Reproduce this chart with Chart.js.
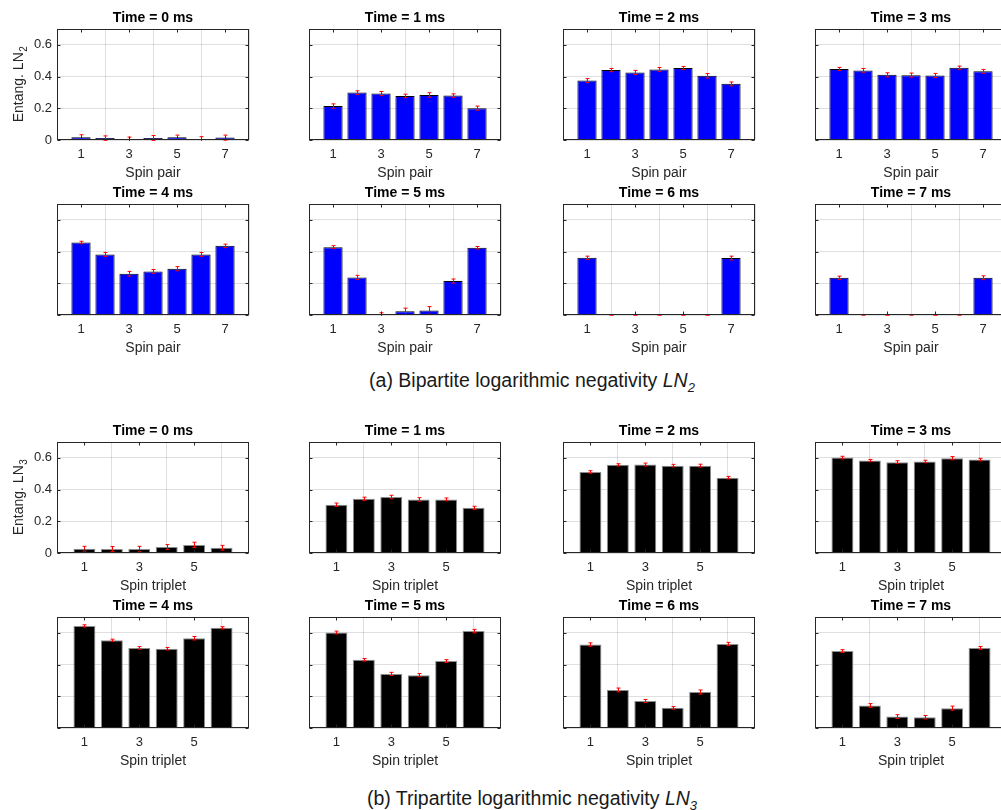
<!DOCTYPE html>
<html>
<head>
<meta charset="utf-8">
<script src="https://cdn.jsdelivr.net/npm/chart.js@4.4.1/dist/chart.umd.min.js"></script>
<style>
  html, body { margin: 0; padding: 0; background: #fff; }
  body { width: 1001px; height: 810px; overflow: hidden; position: relative;
         font-family: "Liberation Sans", Arial, Helvetica, sans-serif; }
  .cell { position: absolute; }
  .caption { position: absolute; font-size: 19.5px; line-height: 22px; color: #1a1a1a;
             white-space: nowrap; transform: translateX(-50%); }
  .caption sub { font-size: 13px; line-height: 0; vertical-align: -5px; }
</style>
</head>
<body>
<div class="caption" style="left:532px; top:369px;">(a) Bipartite logarithmic negativity <i>LN<sub>2</sub></i></div>
<div class="caption" style="left:532px; top:787px;">(b) Tripartite logarithmic negativity <i>LN<sub>3</sub></i></div>

<script>
// ---- data ----
const spinPairs = [1, 2, 3, 4, 5, 6, 7];
const spinTriplets = [1, 2, 3, 4, 5, 6];
const timeStepsMs = [0, 1, 2, 3, 4, 5, 6, 7];
const pairTicks = [1, 3, 5, 7];
const tripletTicks = [1, 3, 5];
const yTickValues = [0, 0.2, 0.4, 0.6];
const yTickLabels = ['0', '0.2', '0.4', '0.6'];

// bipartite LN2 per spin pair, with error half-widths
const ln2Time0 = [0.018, 0.012, 0.003, 0.012, 0.017, 0.003, 0.015];
const ln2Time1 = [0.214, 0.299, 0.293, 0.278, 0.284, 0.280, 0.201];
const ln2Time2 = [0.375, 0.441, 0.426, 0.445, 0.454, 0.405, 0.354];
const ln2Time3 = [0.448, 0.439, 0.411, 0.409, 0.407, 0.456, 0.433];
const ln2Time4 = [0.457, 0.382, 0.260, 0.275, 0.292, 0.382, 0.436];
const ln2Time5 = [0.428, 0.237, 0.002, 0.023, 0.029, 0.214, 0.424];
const ln2Time6 = [0.361, 0, 0, 0, 0, 0, 0.359];
const ln2Time7 = [0.235, 0, 0, 0, 0, 0, 0.235];

const ln2Err0 = [0.015, 0.014, 0.015, 0.016, 0.014, 0.018, 0.016];
const ln2Err1 = [0.014, 0.011, 0.013, 0.011, 0.014, 0.011, 0.013];
const ln2Err2 = [0.012, 0.010, 0.013, 0.012, 0.010, 0.014, 0.012];
const ln2Err3 = [0.010, 0.012, 0.013, 0.013, 0.013, 0.010, 0.012];
const ln2Err4 = [0.008, 0.012, 0.015, 0.012, 0.013, 0.012, 0.011];
const ln2Err5 = [0.009, 0.013, 0.012, 0.020, 0.024, 0.013, 0.008];
const ln2Err6 = [0.010, 0, 0, 0, 0, 0, 0.012];
const ln2Err7 = [0.010, 0, 0, 0, 0, 0, 0.012];

// tripartite LN3 per spin triplet, with error half-widths
const ln3Time0 = [0.027, 0.025, 0.025, 0.038, 0.051, 0.033];
const ln3Time1 = [0.304, 0.342, 0.353, 0.338, 0.338, 0.285];
const ln3Time2 = [0.511, 0.556, 0.558, 0.551, 0.551, 0.475];
const ln3Time3 = [0.602, 0.583, 0.573, 0.577, 0.598, 0.589];
const ln3Time4 = [0.644, 0.553, 0.505, 0.500, 0.566, 0.632];
const ln3Time5 = [0.602, 0.430, 0.341, 0.333, 0.422, 0.611];
const ln3Time6 = [0.526, 0.240, 0.170, 0.127, 0.227, 0.530];
const ln3Time7 = [0.485, 0.142, 0.072, 0.068, 0.125, 0.505];

const ln3Err0 = [0.015, 0.016, 0.017, 0.015, 0.017, 0.015];
const ln3Err1 = [0.011, 0.010, 0.011, 0.011, 0.009, 0.010];
const ln3Err2 = [0.008, 0.007, 0.009, 0.008, 0.009, 0.008];
const ln3Err3 = [0.008, 0.007, 0.009, 0.008, 0.010, 0.008];
const ln3Err4 = [0.007, 0.007, 0.008, 0.008, 0.011, 0.007];
const ln3Err5 = [0.009, 0.008, 0.010, 0.010, 0.009, 0.011];
const ln3Err6 = [0.011, 0.012, 0.010, 0.008, 0.013, 0.010];
const ln3Err7 = [0.009, 0.012, 0.012, 0.011, 0.013, 0.009];

const ln2Series = [ln2Time0, ln2Time1, ln2Time2, ln2Time3, ln2Time4, ln2Time5, ln2Time6, ln2Time7];
const ln2Errors = [ln2Err0, ln2Err1, ln2Err2, ln2Err3, ln2Err4, ln2Err5, ln2Err6, ln2Err7];
const ln3Series = [ln3Time0, ln3Time1, ln3Time2, ln3Time3, ln3Time4, ln3Time5, ln3Time6, ln3Time7];
const ln3Errors = [ln3Err0, ln3Err1, ln3Err2, ln3Err3, ln3Err4, ln3Err5, ln3Err6, ln3Err7];

// ---- layout (plot-area corners in page pixels) ----
const COL_LEFT = [57, 309, 563, 815];
const ROW_TOP = { pair: [29, 204], triplet: [442, 617] };
const PLOT_W = 192, PLOT_H = 111;
const PAD_L = 57, PAD_T = 30, PAD_R = 6, PAD_B = 48;
const FONT = '"Liberation Sans", Arial, Helvetica, sans-serif';
const AXIS_COLOR = '#262626';
const GRID_COLOR = 'rgba(38,38,38,0.15)';

function decorPlugin(cfg) {
  return {
    id: 'decor',
    afterDatasetsDraw(chart) {
      const ctx = chart.ctx, a = chart.chartArea, ys = chart.scales.y;
      const meta = chart.getDatasetMeta(0);
      ctx.save();
      ctx.beginPath();
      ctx.rect(a.left, a.top - 1, a.right - a.left, a.bottom - a.top + 2);
      ctx.clip();
      ctx.strokeStyle = '#ff0000';
      ctx.lineWidth = 1;
      meta.data.forEach((bar, i) => {
        const v = cfg.values[i], e = cfg.errors[i];
        const x = Math.round(bar.x) + 0.5;
        const y1 = ys.getPixelForValue(v + e), y2 = ys.getPixelForValue(v - e);
        ctx.beginPath();
        ctx.moveTo(x, y1); ctx.lineTo(x, y2);
        ctx.moveTo(x - 2, y1); ctx.lineTo(x + 2, y1);
        ctx.moveTo(x - 2, y2); ctx.lineTo(x + 2, y2);
        ctx.stroke();
      });
      ctx.restore();
    },
    afterDraw(chart) {
      const ctx = chart.ctx, a = chart.chartArea;
      const xs = chart.scales.x, ys = chart.scales.y;
      const L = Math.round(a.left) + 0.5, R = Math.round(a.right) - 0.5;
      const T = Math.round(a.top) + 0.5, B = Math.round(a.bottom) - 0.5;
      ctx.save();
      // axes box with inward tick marks
      ctx.strokeStyle = AXIS_COLOR;
      ctx.lineWidth = 1;
      ctx.strokeRect(L, T, R - L, B - T);
      ctx.beginPath();
      yTickValues.forEach(v => {
        const y = Math.round(ys.getPixelForValue(v)) + 0.5;
        ctx.moveTo(L, y); ctx.lineTo(L + 3, y);
        ctx.moveTo(R, y); ctx.lineTo(R - 3, y);
      });
      cfg.xTicks.forEach(v => {
        const x = Math.round(xs.getPixelForValue(v)) + 0.5;
        ctx.moveTo(x, B); ctx.lineTo(x, B - 3);
        ctx.moveTo(x, T); ctx.lineTo(x, T + 3);
      });
      ctx.stroke();

      const cx = (a.left + a.right) / 2;
      // subplot title
      ctx.fillStyle = '#000';
      ctx.font = 'bold 14px ' + FONT;
      ctx.textAlign = 'center';
      ctx.textBaseline = 'middle';
      ctx.fillText(cfg.title, cx, a.top - 11);
      // x-axis label
      ctx.fillStyle = AXIS_COLOR;
      ctx.font = '14px ' + FONT;
      ctx.fillText(cfg.xLabel, cx, a.bottom + 33);
      // y-axis label with subscript
      if (cfg.yLabel) {
        ctx.translate(a.left - 39, (a.top + a.bottom) / 2);
        ctx.rotate(-Math.PI / 2);
        ctx.font = '14px ' + FONT;
        const w1 = ctx.measureText(cfg.yLabel).width;
        ctx.font = '10px ' + FONT;
        const w2 = ctx.measureText(cfg.yLabelSub).width;
        const x0 = -(w1 + w2) / 2;
        ctx.textAlign = 'left';
        ctx.textBaseline = 'alphabetic';
        ctx.font = '14px ' + FONT;
        ctx.fillText(cfg.yLabel, x0, 5);
        ctx.font = '10px ' + FONT;
        ctx.fillText(cfg.yLabelSub, x0 + w1 + 0.5, 9);
      }
      ctx.restore();
    }
  };
}

function makePanel(cfg) {
  const div = document.createElement('div');
  div.className = 'cell';
  const w = PAD_L + PLOT_W + PAD_R, h = PAD_T + PLOT_H + PAD_B;
  div.style.left = (cfg.left - PAD_L) + 'px';
  div.style.top = (cfg.top - PAD_T) + 'px';
  div.style.width = w + 'px';
  div.style.height = h + 'px';
  const canvas = document.createElement('canvas');
  canvas.width = w; canvas.height = h;
  div.appendChild(canvas);
  document.body.appendChild(div);

  new Chart(canvas, {
    type: 'bar',
    data: {
      datasets: [{
        data: cfg.categories.map((c, i) => ({ x: c, y: cfg.values[i] })),
        backgroundColor: cfg.fill,
        borderColor: cfg.edge,
        borderWidth: 1,
        borderSkipped: 'start',
        barPercentage: 0.8,
        categoryPercentage: 1.0
      }]
    },
    options: {
      responsive: false,
      animation: false,
      devicePixelRatio: 1,
      layout: { padding: { left: 0, top: PAD_T, right: PAD_R, bottom: 0 } },
      plugins: { legend: { display: false }, title: { display: false }, tooltip: { enabled: false } },
      scales: {
        x: {
          type: 'linear', min: 0, max: cfg.xMax, offset: false,
          afterBuildTicks: s => { s.ticks = cfg.xTicks.map(v => ({ value: v })); },
          afterFit: s => { s.height = PAD_B; },
          grid: { color: GRID_COLOR, drawTicks: false, lineWidth: 1 },
          border: { display: false },
          ticks: { color: AXIS_COLOR, font: { family: FONT, size: 13 }, padding: 7,
                   maxRotation: 0, autoSkip: false, callback: v => String(v) }
        },
        y: {
          type: 'linear', min: 0, max: 0.7,
          afterBuildTicks: s => { s.ticks = yTickValues.map(v => ({ value: v })); },
          afterFit: s => { s.width = PAD_L; },
          grid: { color: GRID_COLOR, drawTicks: false, lineWidth: 1 },
          border: { display: false },
          ticks: { display: cfg.showYTicks, color: AXIS_COLOR, font: { family: FONT, size: 13 },
                   padding: 5, callback: (v, i) => yTickLabels[i] }
        }
      }
    },
    plugins: [decorPlugin(cfg)]
  });
}

timeStepsMs.forEach((t, k) => {
  const col = k % 4, row = Math.floor(k / 4);
  const first = k === 0;
  makePanel({
    left: COL_LEFT[col], top: ROW_TOP.pair[row],
    categories: spinPairs, values: ln2Series[k], errors: ln2Errors[k],
    xTicks: pairTicks, xMax: 8, fill: '#0000ff', edge: '#000000',
    title: 'Time = ' + t + ' ms', xLabel: 'Spin pair',
    showYTicks: first, yLabel: first ? 'Entang. LN' : null, yLabelSub: '2'
  });
  makePanel({
    left: COL_LEFT[col], top: ROW_TOP.triplet[row],
    categories: spinTriplets, values: ln3Series[k], errors: ln3Errors[k],
    xTicks: tripletTicks, xMax: 7, fill: '#000000', edge: '#8c8c8c',
    title: 'Time = ' + t + ' ms', xLabel: 'Spin triplet',
    showYTicks: first, yLabel: first ? 'Entang. LN' : null, yLabelSub: '3'
  });
});
</script>
</body>
</html>
